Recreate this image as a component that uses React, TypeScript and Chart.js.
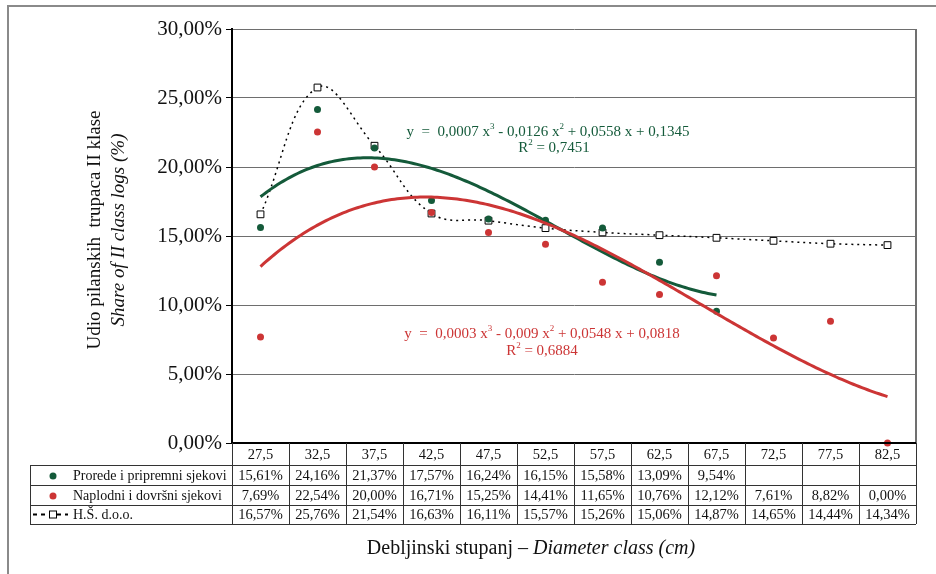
import React, { useEffect, useRef } from 'react';
import { Chart, registerables } from 'chart.js';

Chart.register(...registerables);

// ---------- data ----------
const categories = ['27,5', '32,5', '37,5', '42,5', '47,5', '52,5', '57,5', '62,5', '67,5', '72,5', '77,5', '82,5'];
const prorede: (number | null)[] = [15.61, 24.16, 21.37, 17.57, 16.24, 16.15, 15.58, 13.09, 9.54, null, null, null];
const naplodni: (number | null)[] = [7.69, 22.54, 20.0, 16.71, 15.25, 14.41, 11.65, 10.76, 12.12, 7.61, 8.82, 0.0];
const hsDoo: (number | null)[] = [16.57, 25.76, 21.54, 16.63, 16.11, 15.57, 15.26, 15.06, 14.87, 14.65, 14.44, 14.34];
const seriesNames = ['Prorede i pripremni sjekovi', 'Naplodni i dovršni sjekovi', 'H.Š. d.o.o.'];
const yMin = 0;
const yMax = 30;
const yStep = 5;

const eqGreen = [
  { t: 'y  =  0,0007 x' }, { t: '3', sup: true }, { t: ' - 0,0126 x' }, { t: '2', sup: true }, { t: ' + 0,0558 x + 0,1345' },
];
const r2Green = [{ t: 'R' }, { t: '2', sup: true }, { t: ' = 0,7451' }];
const eqRed = [
  { t: 'y  =  0,0003 x' }, { t: '3', sup: true }, { t: ' - 0,009 x' }, { t: '2', sup: true }, { t: ' + 0,0548 x + 0,0818' },
];
const r2Red = [{ t: 'R' }, { t: '2', sup: true }, { t: ' = 0,6884' }];

const GREEN = '#145a3a';
const RED = '#cc3535';
const SERIF = '"Liberation Serif", "Times New Roman", serif';

// least squares cubic fit on index x = 1..n
function cubicFit(ys: (number | null)[]) {
  const A: number[][] = Array.from({ length: 4 }, () => Array(5).fill(0));
  ys.forEach((y, i) => {
    if (y == null) return;
    const x = i + 1;
    const p = [1, x, x * x, x * x * x];
    for (let r = 0; r < 4; r++) {
      for (let c = 0; c < 4; c++) A[r][c] += p[r] * p[c];
      A[r][4] += p[r] * y;
    }
  });
  for (let i = 0; i < 4; i++) {
    let m = i;
    for (let k = i + 1; k < 4; k++) if (Math.abs(A[k][i]) > Math.abs(A[m][i])) m = k;
    [A[i], A[m]] = [A[m], A[i]];
    for (let k = 0; k < 4; k++) {
      if (k === i) continue;
      const f = A[k][i] / A[i][i];
      for (let c = i; c < 5; c++) A[k][c] -= f * A[i][c];
    }
  }
  return A.map((r, i) => r[4] / r[i]);
}

function trendPoints(ys: (number | null)[]) {
  const c = cubicFit(ys);
  let last = 0;
  ys.forEach((y, i) => { if (y != null) last = i + 1; });
  const pts: { x: number; y: number }[] = [];
  for (let k = 0; k <= (last - 1) * 20; k++) {
    const x = 1 + k / 20;
    pts.push({ x, y: c[0] + c[1] * x + c[2] * x * x + c[3] * x * x * x });
  }
  return pts;
}

const toPts = (ys: (number | null)[]) => ys.map((y, i) => ({ x: i + 1, y })).filter((p) => p.y != null);
const fmtPct = (v: number) => v.toFixed(2).replace('.', ',') + '%';

function drawRich(ctx: CanvasRenderingContext2D, segs: { t: string; sup?: boolean }[], cx: number, cy: number, size: number, color: string) {
  const main = `${size}px ${SERIF}`;
  const small = `${Math.round(size * 0.6)}px ${SERIF}`;
  let w = 0;
  segs.forEach((s) => { ctx.font = s.sup ? small : main; w += ctx.measureText(s.t).width; });
  let x = cx - w / 2;
  ctx.fillStyle = color;
  ctx.textAlign = 'left';
  ctx.textBaseline = 'middle';
  segs.forEach((s) => {
    ctx.font = s.sup ? small : main;
    ctx.fillText(s.t, x, s.sup ? cy - size * 0.35 : cy);
    x += ctx.measureText(s.t).width;
  });
}

const extrasPlugin = {
  id: 'extras',
  beforeDraw(chart: any) {
    const ctx = chart.ctx as CanvasRenderingContext2D;
    ctx.save();
    ctx.fillStyle = '#fff';
    ctx.fillRect(0, 0, chart.width, chart.height);
    ctx.strokeStyle = '#8a8a8a';
    ctx.lineWidth = 2;
    ctx.strokeRect(8, 6, 2000, 2000);
    ctx.restore();
  },
  afterDraw(chart: any) {
    const ctx = chart.ctx as CanvasRenderingContext2D;
    const { left, right, top, bottom } = chart.chartArea;
    const xs = chart.scales.x;
    ctx.save();

    // plot right border
    ctx.strokeStyle = '#707070';
    ctx.lineWidth = 2;
    ctx.beginPath();
    ctx.moveTo(right, top);
    ctx.lineTo(right, bottom);
    ctx.stroke();

    // bottom axis
    ctx.strokeStyle = '#000';
    ctx.lineWidth = 2;
    ctx.beginPath();
    ctx.moveTo(left - 1, bottom);
    ctx.lineTo(right, bottom);
    ctx.stroke();

    // data table
    const rows = [bottom, bottom + 22, bottom + 42, bottom + 62, bottom + 81];
    const tableLeft = 30;
    ctx.strokeStyle = '#333';
    ctx.lineWidth = 1;
    ctx.beginPath();
    for (let i = 0; i <= categories.length; i++) {
      const x = Math.round(xs.getPixelForValue(i + 0.5)) + 0.5;
      ctx.moveTo(x, bottom);
      ctx.lineTo(x, rows[4]);
    }
    ctx.moveTo(tableLeft + 0.5, rows[1]);
    ctx.lineTo(tableLeft + 0.5, rows[4]);
    for (let r = 1; r <= 4; r++) {
      ctx.moveTo(tableLeft, Math.round(rows[r]) + 0.5);
      ctx.lineTo(right, Math.round(rows[r]) + 0.5);
    }
    ctx.stroke();

    const tf = `14.5px ${SERIF}`;
    ctx.font = tf;
    ctx.fillStyle = '#111';
    ctx.textAlign = 'center';
    ctx.textBaseline = 'middle';
    categories.forEach((c, i) => ctx.fillText(c, xs.getPixelForValue(i + 1), (rows[0] + rows[1]) / 2 + 1));
    [prorede, naplodni, hsDoo].forEach((arr, r) => {
      const cy = (rows[r + 1] + rows[r + 2]) / 2 + 1;
      arr.forEach((v, i) => {
        if (v == null) return;
        ctx.fillText(fmtPct(v), xs.getPixelForValue(i + 1), cy);
      });
    });

    // legend column
    ctx.textAlign = 'left';
    seriesNames.forEach((n, r) => {
      const cy = (rows[r + 1] + rows[r + 2]) / 2 + 1;
      ctx.fillStyle = '#111';
      ctx.font = `14px ${SERIF}`;
      ctx.fillText(n, 73, cy);
    });
    const m1 = (rows[1] + rows[2]) / 2 + 1;
    const m2 = (rows[2] + rows[3]) / 2 + 1;
    const m3 = (rows[3] + rows[4]) / 2;
    ctx.fillStyle = GREEN;
    ctx.beginPath(); ctx.arc(53, m1, 3.5, 0, Math.PI * 2); ctx.fill();
    ctx.fillStyle = RED;
    ctx.beginPath(); ctx.arc(53, m2, 3.5, 0, Math.PI * 2); ctx.fill();
    ctx.strokeStyle = '#000';
    ctx.lineWidth = 2;
    ctx.setLineDash([4, 4]);
    ctx.beginPath(); ctx.moveTo(33, m3); ctx.lineTo(68, m3); ctx.stroke();
    ctx.setLineDash([]);
    ctx.fillStyle = '#fff';
    ctx.fillRect(49, m3 - 3.5, 7, 7);
    ctx.lineWidth = 1;
    ctx.strokeRect(49.5, m3 - 3.5, 7, 7);

    // y axis title
    ctx.save();
    ctx.translate(95, 230);
    ctx.rotate(-Math.PI / 2);
    ctx.fillStyle = '#111';
    ctx.textAlign = 'center';
    ctx.textBaseline = 'middle';
    ctx.font = `19px ${SERIF}`;
    ctx.fillText('Udio pilanskih  trupaca II klase', 0, 0);
    ctx.font = `italic 19px ${SERIF}`;
    ctx.fillText('Share of II class logs (%)', 0, 24);
    ctx.restore();

    // x axis title
    const p1 = 'Debljinski stupanj – ';
    const p2 = 'Diameter class (cm)';
    ctx.font = `20px ${SERIF}`;
    const w1 = ctx.measureText(p1).width;
    ctx.font = `italic 20px ${SERIF}`;
    const w2 = ctx.measureText(p2).width;
    const sx = 531 - (w1 + w2) / 2;
    ctx.fillStyle = '#111';
    ctx.textAlign = 'left';
    ctx.textBaseline = 'middle';
    ctx.font = `20px ${SERIF}`;
    ctx.fillText(p1, sx, 549);
    ctx.font = `italic 20px ${SERIF}`;
    ctx.fillText(p2, sx + w1, 549);

    // equations
    drawRich(ctx, eqGreen, 548, 132, 15, GREEN);
    drawRich(ctx, r2Green, 554, 148, 15, GREEN);
    drawRich(ctx, eqRed, 542, 334, 15, RED);
    drawRich(ctx, r2Red, 542, 351, 15, RED);

    ctx.restore();
  },
};

export default function App() {
  const ref = useRef<HTMLCanvasElement>(null);
  useEffect(() => {
    document.body.style.margin = '0';
    const canvas = ref.current!;
    const chart = new Chart(canvas, {
      type: 'line',
      data: {
        datasets: [
          {
            label: 'trend red',
            data: trendPoints(naplodni),
            borderColor: RED,
            borderWidth: 3,
            pointRadius: 0,
            fill: false,
            order: 0,
            clip: false as any,
          },
          {
            label: 'trend green',
            data: trendPoints(prorede),
            borderColor: GREEN,
            borderWidth: 3,
            pointRadius: 0,
            fill: false,
            order: 1,
            clip: false as any,
          },
          {
            label: seriesNames[1],
            data: toPts(naplodni) as any,
            showLine: false,
            pointStyle: 'circle',
            pointRadius: 3.5,
            pointBackgroundColor: RED,
            pointBorderColor: RED,
            pointBorderWidth: 0,
            order: 2,
            clip: false as any,
          },
          {
            label: seriesNames[0],
            data: toPts(prorede) as any,
            showLine: false,
            pointStyle: 'circle',
            pointRadius: 3.5,
            pointBackgroundColor: GREEN,
            pointBorderColor: GREEN,
            pointBorderWidth: 0,
            order: 3,
            clip: false as any,
          },
          {
            label: seriesNames[2],
            data: toPts(hsDoo) as any,
            borderColor: '#000',
            borderWidth: 1.5,
            borderDash: [2, 4],
            tension: 0.4,
            pointStyle: 'rect',
            pointRadius: 4.8,
            pointBackgroundColor: '#fff',
            pointBorderColor: '#000',
            pointBorderWidth: 1,
            order: 4,
            clip: false as any,
          },
        ],
      },
      options: {
        animation: false,
        responsive: false,
        events: [],
        layout: { padding: { top: 29, right: 20, bottom: 131, left: 0 } },
        plugins: { legend: { display: false }, tooltip: { enabled: false } },
        scales: {
          x: { type: 'linear', min: 0.5, max: categories.length + 0.5, display: false },
          y: {
            min: yMin,
            max: yMax,
            afterFit: (s: any) => { s.width = 232; },
            ticks: {
              stepSize: yStep,
              color: '#111',
              font: { family: SERIF, size: 21 },
              padding: 4,
              callback: (v: any) => fmtPct(Number(v)),
            },
            grid: {
              color: (c: any) => (c.tick && c.tick.value === 0 ? '#000' : '#6e6e6e'),
              lineWidth: 1,
              tickLength: 6,
              tickColor: '#000',
            },
            border: { color: '#000', width: 2 },
          },
        },
      },
      plugins: [extrasPlugin],
    });
    return () => chart.destroy();
  }, []);
  return (
    <div style={{ width: 936, height: 574 }}>
      <canvas ref={ref} width={936} height={574} style={{ display: 'block' }} />
    </div>
  );
}
